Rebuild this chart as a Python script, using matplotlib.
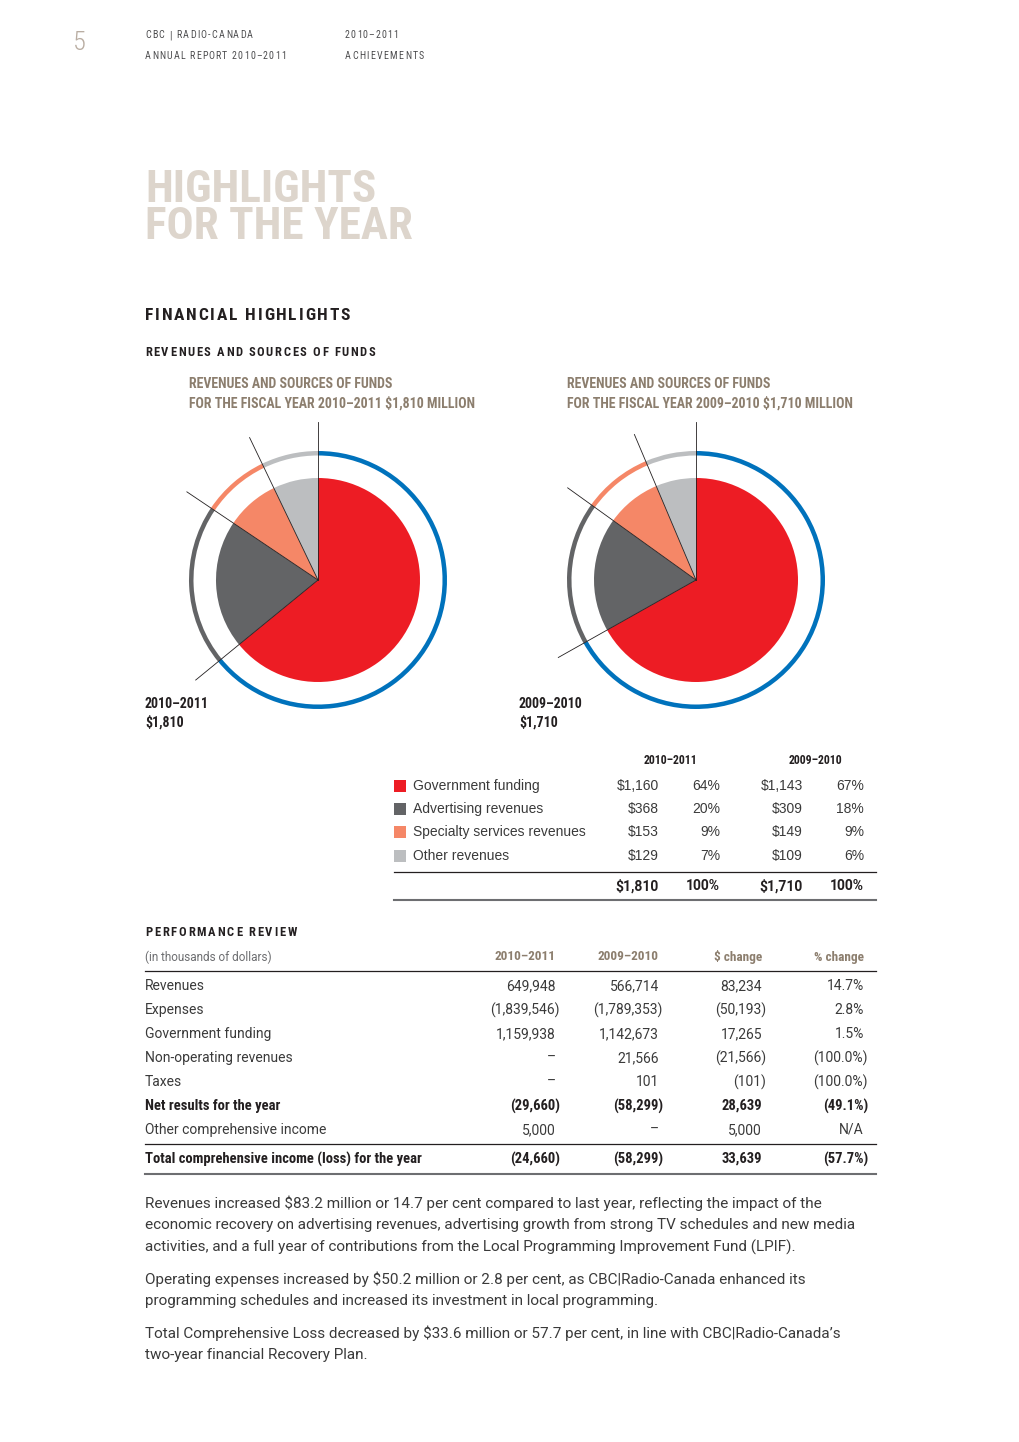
import numpy as np
import matplotlib
matplotlib.use("Agg")
import matplotlib.pyplot as plt
from matplotlib.font_manager import FontProperties
from matplotlib.textpath import TextToPath

# revenues and sources of funds ($ millions)
categories = ['Government funding', 'Advertising revenues',
              'Specialty services revenues', 'Other revenues']
rev_2011 = [1160, 368, 153, 129]
rev_2010 = [1143, 309, 149, 109]
pct_2011 = [64, 20, 9, 7]
pct_2010 = [67, 18, 9, 6]
total_2011 = '$1,810'
total_2010 = '$1,710'

# performance review (in thousands of dollars)
perf_labels = ['Revenues', 'Expenses', 'Government funding', 'Non-operating revenues',
               'Taxes', 'Net results for the year', 'Other comprehensive income',
               'Total comprehensive income (loss) for the year']
perf_2011 = ['649,948', '(1,839,546)', '1,159,938', '–', '–', '(29,660)', '5,000', '(24,660)']
perf_2010 = ['566,714', '(1,789,353)', '1,142,673', '21,566', '101', '(58,299)', '–', '(58,299)']
perf_dchg = ['83,234', '(50,193)', '17,265', '(21,566)', '(101)', '28,639', '5,000', '33,639']
perf_pchg = ['14.7%', '2.8%', '1.5%', '(100.0%)', '(100.0%)', '(49.1%)', 'N/A', '(57.7%)']
perf_bold = [5, 7]
perf_headers = ['2010–2011', '2009–2010', '$ change', '% change']

body = [
    ["Revenues increased $83.2 million or 14.7 per cent compared to last year, reflecting the impact of the",
     "economic recovery on advertising revenues, advertising growth from strong TV schedules and new media",
     "activities, and a full year of contributions from the Local Programming Improvement Fund (LPIF)."],
    ["Operating expenses increased by $50.2 million or 2.8 per cent, as CBC|Radio-Canada enhanced its",
     "programming schedules and increased its investment in local programming."],
    ["Total Comprehensive Loss decreased by $33.6 million or 57.7 per cent, in line with CBC|Radio-Canada’s",
     "two-year financial Recovery Plan."],
]

pie_colors = ['#ED1C24', '#636466', '#F58767', '#BCBEC0']
ring_colors = ['#0072BC', '#636466', '#F58767', '#BCBEC0']
TAN = '#8C7E6E'
TXT = '#3A3A3A'
DARK = '#231F20'
COND = ['Roboto Condensed', 'DejaVu Sans']
ROB = ['Roboto', 'DejaVu Sans']
SANS = ['Liberation Sans', 'DejaVu Sans']

W, H = 1020, 1442
fig = plt.figure(figsize=(W / 100, H / 100), dpi=100)
ax = fig.add_axes([0, 0, 1, 1])
ttp = TextToPath()


def Y(y):
    return H - y


def T(x, y, s, size=10, weight='normal', color=TXT, ha='left', family=SANS, va='center'):
    ax.text(x, Y(y), s, fontsize=size, fontweight=weight, color=color,
            ha=ha, va=va, family=family)


def adv(ch, prop):
    # advance width of one character in pixels
    a = ttp.get_text_width_height_descent('|' + ch + '|', prop, ismath=False)[0]
    b = ttp.get_text_width_height_descent('||', prop, ismath=False)[0]
    return (a - b) * 100 / 72


def tracked(x, y, s, width, size, weight='normal', color=DARK, family=COND):
    # letter-spaced text stretched to a given width
    prop = FontProperties(family=family, weight=weight, size=size)
    ws = [adv(ch, prop) for ch in s]
    tr = (width - sum(ws)) / (len(s) - 1)
    for ch, w in zip(s, ws):
        if ch != ' ':
            T(x, y, ch, size=size, weight=weight, color=color, family=family)
        x += w + tr


# header
T(79, 43, '5', size=19, weight='light', color='#B9ADA2', ha='center', family=COND)
tracked(145, 35, 'CBC | RADIO-CANADA', 108, 7.2, color='#4D4D4F')
tracked(145, 56, 'ANNUAL REPORT 2010–2011', 141, 7.2, color='#4D4D4F')
tracked(345, 35, '2010–2011', 53, 7.2, color='#4D4D4F')
tracked(345, 56, 'ACHIEVEMENTS', 79, 7.2, color='#4D4D4F')

# big title
T(145, 202, 'HIGHLIGHTS', size=32.5, weight='bold', color='#DDD5CC', family=COND, va='baseline')
T(145, 239, 'FOR THE YEAR', size=32.5, weight='bold', color='#DDD5CC', family=COND, va='baseline')

tracked(145, 316, 'FINANCIAL HIGHLIGHTS', 205, 12.5, weight='bold')
tracked(145, 353, 'REVENUES AND SOURCES OF FUNDS', 230, 9, weight='bold')


def draw_pie(cx, cy, vals, title2, lx, year, total):
    c = (cx, Y(cy))
    ax.pie(vals, colors=pie_colors, startangle=90, counterclock=False,
           radius=102, center=c, wedgeprops=dict(linewidth=0))
    ax.pie(vals, colors=ring_colors, startangle=90, counterclock=False,
           radius=129, center=c, wedgeprops=dict(width=4.5, linewidth=0))
    cum = np.concatenate([[0], np.cumsum(vals)[:-1]]) / np.sum(vals)
    for f in cum:
        a = np.radians(90 - 360 * f)
        ax.plot([cx, cx + 158 * np.cos(a)], [Y(cy), Y(cy) + 158 * np.sin(a)],
                color=DARK, lw=0.6, zorder=5)
    T(cx - 129, 384, 'REVENUES AND SOURCES OF FUNDS', size=10, weight='bold', color=TAN, family=COND)
    T(cx - 129, 403, title2, size=10, weight='bold', color=TAN, family=COND)
    T(lx, 704, year, size=10, weight='bold', color=DARK, family=COND)
    T(lx, 722, total, size=10, weight='bold', color=DARK, family=COND)


draw_pie(318, 580, rev_2011, 'FOR THE FISCAL YEAR 2010–2011 $1,810 MILLION', 145, '2010–2011', total_2011)
draw_pie(696, 580, rev_2010, 'FOR THE FISCAL YEAR 2009–2010 $1,710 MILLION', 519, '2009–2010', total_2010)

# legend table
T(671, 761, '2010–2011', size=8.5, weight='bold', color=DARK, ha='center', family=COND)
T(815, 761, '2009–2010', size=8.5, weight='bold', color=DARK, ha='center', family=COND)
row_y = [786, 809, 832, 856]
ax.scatter([400] * 4, [Y(y) for y in row_y], s=68, marker='s', c=pie_colors, linewidths=0)
for i, y in enumerate(row_y):
    T(413, y, categories[i], size=10)
    T(659, y, '${:,}'.format(rev_2011[i]), size=10, ha='right')
    T(720, y, '{}%'.format(pct_2011[i]), size=10, ha='right')
    T(803, y, '${:,}'.format(rev_2010[i]), size=10, ha='right')
    T(864, y, '{}%'.format(pct_2010[i]), size=10, ha='right')
ax.plot([394, 876], [Y(872), Y(872)], color=DARK, lw=0.9)
T(659, 886, total_2011, size=10, weight='bold', ha='right', color=DARK, family=ROB)
T(720, 886, '{}%'.format(sum(pct_2011)), size=10, weight='bold', ha='right', color=DARK, family=ROB)
T(803, 886, total_2010, size=10, weight='bold', ha='right', color=DARK, family=ROB)
T(864, 886, '{}%'.format(sum(pct_2010)), size=10, weight='bold', ha='right', color=DARK, family=ROB)
ax.plot([394, 876], [Y(900), Y(900)], color='#6D6E71', lw=1.5)

# performance review
tracked(145, 933, 'PERFORMANCE REVIEW', 152, 9, weight='bold')
T(145, 957, '(in thousands of dollars)', size=8.5, color='#6D6E71', family=ROB)
col_x = [556, 659, 762, 864]
for j, h in enumerate(perf_headers):
    T(col_x[j], 957, h, size=9.5, weight='bold', color=TAN, ha='right', family=COND)
ax.plot([145, 876], [Y(971), Y(971)], color=DARK, lw=0.9)
perf_y = [986, 1010, 1034, 1058, 1082, 1106, 1130, 1159]
cols = [perf_2011, perf_2010, perf_dchg, perf_pchg]
for i, y in enumerate(perf_y):
    if i in perf_bold:
        kw = dict(size=10.5, weight='bold', family=COND, color=DARK)
    else:
        kw = dict(size=10, weight='normal', family=ROB, color=TXT)
    T(145, y, perf_labels[i], **kw)
    for j, col in enumerate(cols):
        s = col[i]
        x = col_x[j] + (4 if s.endswith(')') else 0)
        T(x, y, s, ha='right', **kw)
ax.plot([145, 876], [Y(1144), Y(1144)], color=DARK, lw=0.9)
ax.plot([145, 876], [Y(1174), Y(1174)], color='#6D6E71', lw=1.5)

# body text
y = 1203
for para in body:
    for line in para:
        T(145, y, line, size=11, weight='normal', family=ROB, color=TXT)
        y += 22
    y += 10

ax.set_xlim(0, W)
ax.set_ylim(0, H)
ax.set_aspect('auto')
ax.axis('off')
fig.savefig('out.png', dpi=100, facecolor='white')
